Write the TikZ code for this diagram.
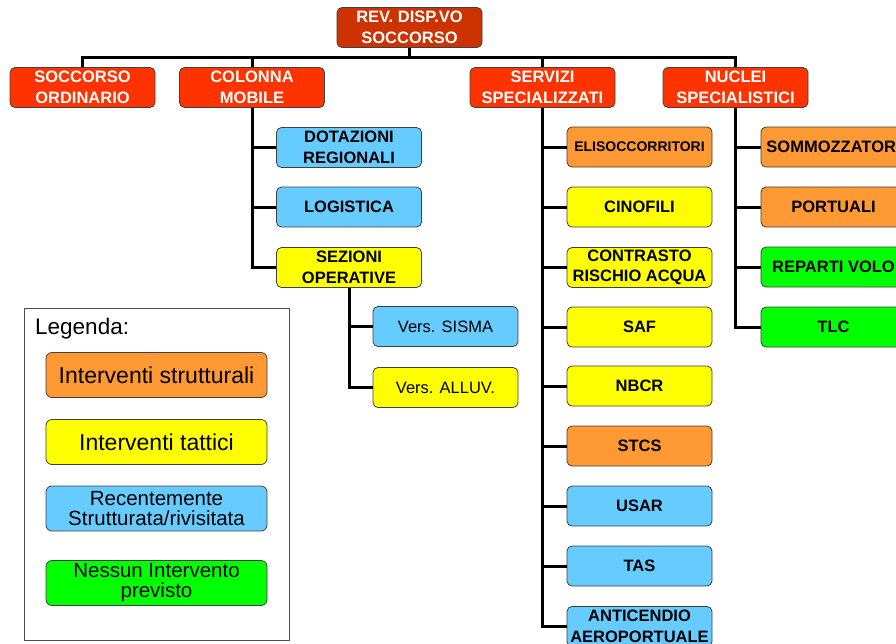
\documentclass[tikz,border=0pt]{standalone}
\usepackage{fontspec}
\setmainfont{Liberation Sans}
\definecolor{topred}{HTML}{CC3300}
\definecolor{lvlred}{HTML}{FF3300}
\definecolor{orng}{HTML}{FF9933}
\definecolor{yel}{HTML}{FFFF00}
\definecolor{blu}{HTML}{66CCFF}
\definecolor{grn}{HTML}{00FF00}
\begin{document}
\begin{tikzpicture}[x=1pt,y=-1pt,
  box/.style={draw=black!75, line width=0.8pt, rounded corners=5pt,
    minimum width=145pt, minimum height=40pt, inner sep=0pt, align=center,
    font=\bfseries\fontsize{16.5}{20.5}\selectfont},
  lvl/.style={box, fill=lvlred, text=white},
  orbox/.style={box, fill=orng},
  yebox/.style={box, fill=yel},
  blbox/.style={box, fill=blu},
  grbox/.style={box, fill=grn},
  verbox/.style={box, font=\fontsize{16.5}{20}\selectfont},
  legbox/.style={draw=black!75, line width=0.8pt, rounded corners=6pt,
    minimum width=221pt, minimum height=45pt, inner sep=0pt, align=center,
    font=\fontsize{20.5}{20}\selectfont},
  conn/.style={line width=3pt, line join=miter}]
\clip (0,0) rectangle (896,643);
\fill[white] (0,0) rectangle (896,643);

% top
\node[box, fill=topred, text=white] (top) at (409.5,27.5) {REV. DISP.VO\\SOCCORSO};
% level 1
\node[lvl] (so) at (82.5,87.5) {SOCCORSO\\ORDINARIO};
\node[lvl] (cm) at (252,87.5) {COLONNA\\MOBILE};
\node[lvl] (ss) at (542.5,87.5) {SERVIZI\\SPECIALIZZATI};
\node[lvl] (ns) at (735.5,87.5) {NUCLEI\\SPECIALISTICI};

% colonna mobile children
\node[blbox] (dot) at (349,147.5) {DOTAZIONI\\REGIONALI};
\node[blbox] (log) at (349,207) {LOGISTICA};
\node[yebox] (sez) at (349,267.5) {SEZIONI\\OPERATIVE};
\node[verbox, fill=blu] (sis) at (445.5,326.5) {Vers. SISMA};
\node[verbox, fill=yel] (all) at (445.5,387.5) {Vers. ALLUV.};

% servizi children
\node[orbox, font=\bfseries\fontsize{14}{18}\selectfont] (eli) at (639.5,147) {ELISOCCORRITORI};
\node[yebox] (cin) at (639.5,207) {CINOFILI};
\node[yebox] (con) at (639.5,267.5) {CONTRASTO\\RISCHIO ACQUA};
\node[yebox] (saf) at (639.5,327) {SAF};
\node[yebox] (nbc) at (639.5,386) {NBCR};
\node[orbox] (stc) at (639.5,446) {STCS};
\node[blbox] (usa) at (639.5,506) {USAR};
\node[blbox] (tas) at (639.5,566) {TAS};
\node[blbox] (ant) at (639.5,626.5) {ANTICENDIO\\AEROPORTUALE};

% nuclei children
\node[orbox] (som) at (833.5,147) {SOMMOZZATORI};
\node[orbox] (por) at (833.5,207) {PORTUALI};
\node[grbox] (rep) at (833.5,267) {REPARTI VOLO};
\node[grbox] (tlc) at (833.5,327) {TLC};

% connectors
\foreach \n in {so,cm,ss,ns}
  \draw[conn] (top.south) -- ++(0,10) -| (\n.north);
\foreach \n in {dot,log,sez}
  \draw[conn] (cm.south) |- (\n.west);
\foreach \n in {sis,all}
  \draw[conn] (sez.south) |- (\n.west);
\foreach \n in {eli,cin,con,saf,nbc,stc,usa,tas,ant}
  \draw[conn] (ss.south) |- (\n.west);
\foreach \n in {som,por,rep,tlc}
  \draw[conn] (ns.south) |- (\n.west);

% legend
\node[draw=black!70, line width=0.8pt, minimum width=265pt, minimum height=332pt, inner sep=0pt] (leg) at (156.5,474) {};
\node[anchor=west, inner sep=0pt, font=\fontsize{22.5}{24}\selectfont] (legt) at (35,329) {Legenda:};
\node[legbox, fill=orng, font=\fontsize{23}{24}\selectfont] (l1) at (156.5,375) {Interventi strutturali};
\node[legbox, fill=yel, font=\fontsize{23}{24}\selectfont] (l2) at (156.5,442) {Interventi tattici};
\node[legbox, fill=blu] (l3) at (156.5,508.5) {Recentemente\\Strutturata/rivisitata};
\node[legbox, fill=grn] (l4) at (156.5,583) {Nessun Intervento\\previsto};
\end{tikzpicture}
\end{document}
